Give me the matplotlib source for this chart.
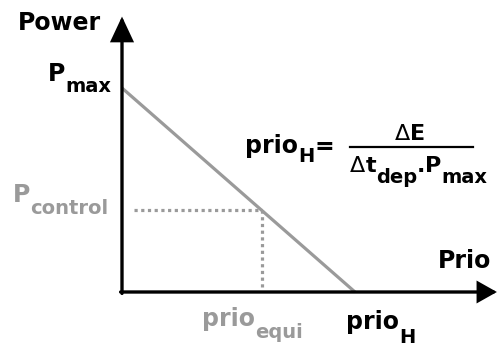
import matplotlib
matplotlib.use("Agg")
import matplotlib.pyplot as plt
import matplotlib.transforms as mtransforms
from matplotlib.lines import Line2D

# chart values (normalised units)
P_MAX = 1.0
PRIO_H = 1.0
P_CONTROL = 0.4
PRIO_EQUI = 0.6

line_prio = [0.0, PRIO_H]
line_power = [P_MAX, 0.0]

W, H = 502, 346
GRAY = "#9a9a9a"
X_TIP = 1.609
Y_TIP = 1.350
X_GAP = 0.05

fig = plt.figure(figsize=(W / 100, H / 100), dpi=100)
ax = fig.add_axes([0, 0, 1, 1])
ax.set_xlim(-122 / 233, 380 / 233)
ax.set_ylim(-54 / 204, 292 / 204)
ax.axis("off")

# image pixels (y down) -> display
PIX = mtransforms.Affine2D().scale(1, -1).translate(0, H)

ax.plot(line_prio, line_power, color=GRAY, lw=2.3, solid_capstyle="butt", zorder=2)
ax.plot([X_GAP, PRIO_EQUI], [P_CONTROL, P_CONTROL], color=GRAY, lw=2.3,
        ls=(0, (1, 1.1)), dash_capstyle="butt", zorder=2)
ax.plot([PRIO_EQUI, PRIO_EQUI], [P_CONTROL, 0.0], color=GRAY, lw=2.3,
        ls=(0, (1, 1.1)), dash_capstyle="butt", zorder=2)

ax.annotate("", xy=(X_TIP, 0), xytext=(-0.006, 0), zorder=3,
            arrowprops=dict(arrowstyle="-|>,head_length=1.1,head_width=0.62",
                            lw=2.4, color="black", shrinkA=0, shrinkB=0,
                            mutation_scale=10, joinstyle="miter"))
ax.annotate("", xy=(0, Y_TIP), xytext=(0, -0.007), zorder=3,
            arrowprops=dict(arrowstyle="-|>,head_length=1.45,head_width=0.68",
                            lw=2.4, color="black", shrinkA=0, shrinkB=0,
                            mutation_scale=10, joinstyle="miter"))

renderer = fig.canvas.get_renderer()


def compound(parts, x, y, ha="left", color="black"):
    """parts: (text, size, dy, weight) laid out on one line, in image pixels"""
    items = []
    for s, size, dy, weight in parts:
        t = ax.text(0, 0, s, transform=PIX, fontsize=size, fontweight=weight,
                    color=color, ha="left", va="baseline")
        items.append((t, t.get_window_extent(renderer).width, dy))
    total = sum(w for _, w, _ in items)
    cur = x - {"left": 0, "center": total / 2, "right": total}[ha]
    for t, w, dy in items:
        t.set_position((cur, y + dy))
        cur += w


B = "bold"
compound([("Power", 17, 0, B)], 59, 29.5, "center")
compound([("Prio", 17, 0, B)], 465, 268, "center")
compound([("P", 17, 0, B), ("max", 14, 11, B)], 111, 81, "right")
compound([("P", 17, 0, B), ("control", 14, 12, B)], 108, 202, "right", GRAY)
compound([("prio", 17, 0, B), ("equi", 14, 12, B)], 252, 326, "center", GRAY)
compound([("prio", 17, 0, B), ("H", 14, 14, B)], 381, 329, "center")

# formula
compound([("prio", 17, 0, B), ("H", 14, 9, B), ("=", 17, 1.5, B)], 245, 152.7, "left")
ax.add_line(Line2D([350, 473], [146.7, 146.7], transform=PIX, color="black", lw=1.6))
compound([("Δ", 16, 0, "normal"), ("E", 16, 0, B)], 410, 140, "center")
compound([("Δ", 16, 0, "normal"), ("t", 16, 0, B), ("dep", 14, 11.5, B),
          (".", 16, 0, B), ("P", 16, 0, B), ("max", 14, 11.5, B)], 350, 171.7, "left")

fig.savefig("out.png", dpi=100)
